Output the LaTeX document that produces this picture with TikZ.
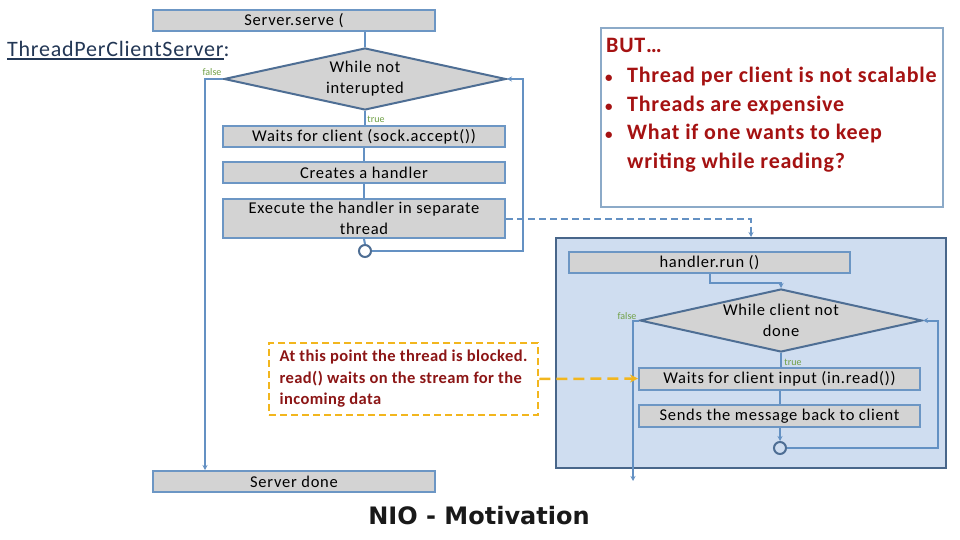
\documentclass[tikz,border=0pt]{standalone}
\usepackage{fontspec}
\setmainfont{Carlito}
\newfontfamily\titlefont{DejaVu Sans}
\usetikzlibrary{shapes.geometric,arrows.meta}
\definecolor{boxfill}{RGB}{211,211,211}
\definecolor{boxline}{RGB}{108,150,196}
\definecolor{dline}{RGB}{78,110,148}
\definecolor{cline}{RGB}{100,145,195}
\definecolor{panelfill}{RGB}{207,221,240}
\definecolor{panelline}{RGB}{72,102,138}
\definecolor{butborder}{RGB}{140,170,200}
\definecolor{redtext}{RGB}{165,18,18}
\definecolor{notetext}{RGB}{140,22,22}
\definecolor{yel}{RGB}{242,182,30}
\definecolor{lblgreen}{RGB}{112,160,70}
\definecolor{titlecol}{RGB}{35,55,85}
\newcommand\boxfont{\fontsize{16.5}{21}\selectfont\addfontfeatures{LetterSpace=4.5}}
\begin{document}
\begin{tikzpicture}[x=1pt,y=-1pt,
  procbox/.style={rectangle, draw=boxline, fill=boxfill, line width=2pt,
    minimum width=282pt, minimum height=21pt, inner sep=1pt, align=center,
    font=\boxfont},
  decision/.style={diamond, draw=dline, fill=boxfill, line width=2pt,
    minimum width=282pt, minimum height=62pt, inner sep=0pt, aspect=4.5,
    align=center, font=\boxfont},
  joint/.style={circle, draw=dline, line width=2pt, minimum size=12pt, inner sep=0pt},
  cn/.style={draw=cline, line width=2pt},
  tip/.style={-{Stealth[length=5pt,width=5pt]}},
  lbl/.style={font=\fontsize{10}{11}\selectfont, text=lblgreen, inner sep=0pt},
  buttext/.style={anchor=base west, inner sep=0pt, text=redtext,
    font=\fontsize{22}{24}\selectfont\bfseries\addfontfeatures{LetterSpace=3.5}}
]
\useasboundingbox (0,0) rectangle (960,540);
\fill[white] (0,0) rectangle (960,540);

% left flow
\node[procbox] (serve) at (294,21) {Server.serve (};
\node[anchor=base west, inner sep=0pt, text=titlecol,
  font=\fontsize{22}{24}\selectfont\addfontfeatures{LetterSpace=3.5}] (title) at (7,57)
  {\setbox0\hbox{ThreadPerClientServer}\rlap{\rule[-3.5pt]{\wd0}{2pt}}\box0:};
\node[decision] (d1) at (365,79) {While not\\interupted};
\node[procbox] (waits) at (364,136.5) {Waits for client (sock.accept())};
\node[procbox] (creates) at (364,172.5) {Creates a handler};
\node[procbox, minimum height=39pt] (exec) at (364,218.5) {Execute the handler in separate\\thread};
\node[joint] (c1) at (365,251) {};
\node[procbox] (done) at (294,481.5) {Server done};
\node[lbl] (f1) at (212,72) {false};
\node[lbl] (t1) at (376,119) {true};

\draw[cn] (serve.south -| d1.north) -- (d1.north);
\draw[cn] (d1.south) -- (waits.north -| d1.south);
\draw[cn] (waits.south) -- (creates.north);
\draw[cn] (creates.south) -- (exec.north);
\draw[cn] (exec.south) -- (c1.north);
\draw[cn,tip] (c1.east) -- (523,251) |- (d1.east);
\draw[cn,tip] (d1.west) -| ([xshift=53pt]done.north west);

% BUT box
\draw[draw=butborder, line width=1.2pt] (601,28) rectangle (943,207);
\node[buttext] (b0) at (606,53) {BUT…};
\node[buttext] (b1) at (605,83) {\makebox[22pt][l]{\fontsize{15}{15}\selectfont•}Thread per client is not scalable};
\node[buttext] (b2) at (605,112) {\makebox[22pt][l]{\fontsize{15}{15}\selectfont•}Threads are expensive};
\node[buttext] (b3) at (605,140) {\makebox[22pt][l]{\fontsize{15}{15}\selectfont•}What if one wants to keep};
\node[buttext] (b4) at (605,168) {\hspace*{22pt}writing while reading?};

% right panel
\node[rectangle, draw=panelline, fill=panelfill, line width=2pt,
  minimum width=390pt, minimum height=230pt, inner sep=0pt] (panel) at (751,353) {};
\node[procbox, minimum width=281pt] (run) at (709.5,262.5) {handler.run ()};
\node[decision, minimum height=63pt] (d2) at (781,320.5) {While client not\\done};
\node[procbox, minimum width=281pt, minimum height=22pt] (read) at (779.5,378.5) {Waits for client input (in.read())};
\node[procbox, minimum width=281pt, minimum height=22pt] (sends) at (779.5,416) {Sends the message back to client};
\node[joint] (c2) at (780,448) {};
\coordinate (end2) at (633,481);
\node[lbl] (f2) at (627,316) {false};
\node[lbl] (t2) at (793,362) {true};

\draw[cn,tip] (run.south) -- ++(0,9) -| (d2.north);
\draw[cn] (d2.south) -- (read.north -| d2.south);
\draw[cn] (read.south -| c2.north) -- (sends.north -| c2.north);
\draw[cn,tip] (sends.south -| c2.north) -- (c2.north);
\draw[cn,tip] (c2.east) -- (938,448) |- (d2.east);
\draw[cn,tip] (d2.west) -| (end2);

\draw[cn, dash pattern=on 7pt off 4pt, tip] (exec.east) -| (panel.north);

% yellow note
\node[rectangle, draw=yel, line width=2.5pt, dash pattern=on 7pt off 4pt,
  minimum width=269pt, minimum height=72pt, inner sep=0pt, align=left,
  text=notetext, font=\fontsize{16.5}{21.5}\selectfont\bfseries\addfontfeatures{LetterSpace=2.5}] (note) at (403.5,379)
  {At this point the thread is blocked.\\read() waits on the stream for the\\incoming data};
\draw[yel, line width=2.5pt, dash pattern=on 11pt off 6pt, -{Stealth[length=8pt,width=8pt]}] (note.east) -- (read.west);

\node[inner sep=0pt, font=\titlefont\bfseries\fontsize{24}{26}\selectfont, text=black!90] (nio) at (479,516) {NIO - Motivation};
\end{tikzpicture}
\end{document}
